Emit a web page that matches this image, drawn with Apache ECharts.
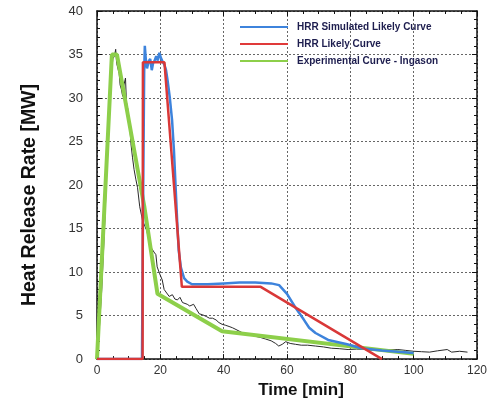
<!DOCTYPE html>
<html>
<head>
<meta charset="utf-8">
<script src="https://cdn.jsdelivr.net/npm/echarts@6/dist/echarts.min.js"></script>
<style>
html,body{margin:0;padding:0;background:#fff;}
#chart{width:490px;height:404px;}
</style>
</head>
<body>
<div id="chart"></div>
<script>
// ---- data (time [min], HRR [MW]) ----
const seriesNames = ["HRR Simulated Likely Curve", "HRR Likely Curve", "Experimental Curve - Ingason"];
const xTicks = [0, 20, 40, 60, 80, 100, 120];
const yTicks = [0, 5, 10, 15, 20, 25, 30, 35, 40];

const simulatedCurve = [
  [0,0],[14.2,0],[14.6,20],[14.9,33],[15.1,36],[15.4,34.5],[15.8,33.4],[16.3,34.2],[16.8,34.5],
  [17.3,33.2],[17.7,34],[18.2,34.3],[18.7,34.8],[19.2,34.3],[19.7,35.2],[20.2,34.6],[20.7,34.2],
  [21.3,33.8],[21.8,33.2],[22.3,32],[23.0,30],[23.7,27.5],[24.3,24],[24.8,20],[25.3,16],
  [25.8,12.5],[26.5,10.5],[27.5,9.3],[28.5,8.9],[30,8.6],[35,8.6],[40,8.7],[45,8.8],[50,8.8],
  [55,8.7],[57.5,8.5],[60,7.5],[62.7,5.9],[65.2,4.6],[67,3.6],[69,3.0],[73,2.2],[79,1.7],
  [83.4,1.25],[90,1.0],[95,0.85],[100,0.7]
];
const likelyCurve = [
  [0,0],[14.4,0],[14.5,34.1],[21.3,34.1],[26.8,8.3],[51.7,8.3],[90,0]
];
const experimentalFit = [
  [0,0],[4.7,35],[6.3,35],[15,17.4],[19.1,7.5],[39.5,3.2],[100,0.6]
];
const measuredCurve = [
  [0,0],[0.5,2],[1,5],[1.5,8],[2,12],[2.5,16],[3,21],[3.5,25],[4,29],[4.5,32.5],[5,34.5],[5.5,34.8],
  [5.9,35.6],[6.2,34],[6.6,33.8],[7,32.8],[7.3,31.5],[7.7,31],[8.1,30.2],[8.5,31.5],[9,32.3],[9.3,29.5],
  [9.7,28.8],[10,26.8],[10.3,27.2],[10.7,24.8],[11.2,23.2],[11.7,21.8],[12.3,20.6],[12.8,19.7],[13.5,17.5],
  [14.4,15.9],[15.2,15.2],[15.7,14.8],[16.4,13.6],[17.1,12.8],[18,12.3],[18.6,12],[19,10.6],[19.8,9.8],
  [20.6,9.1],[21.2,8],[22,7.6],[22.8,7.2],[23.8,7.4],[24.6,6.9],[25.4,6.8],[26.2,7.1],[27,6.5],[27.6,6.4],
  [28.5,6.3],[29.3,6.1],[29.8,6.0],[30.5,6.3],[31.3,5.8],[32.3,5.2],[33.3,5.1],[34.5,4.9],[35.5,4.7],
  [36.5,4.7],[37.6,4.5],[38.5,4.2],[39.5,4.0],[40.5,3.9],[41.7,3.75],[42.8,3.6],[43.9,3.4],[45.5,3.1],
  [47,2.8],[48.5,2.8],[50.2,2.6],[51.5,2.5],[53.3,2.3],[55,2.1],[56.4,1.8],[57.4,1.5],[58.5,1.7],[59.6,2.0],
  [61,1.8],[62.7,1.7],[64.5,1.6],[66.5,1.6],[69,1.5],[71.5,1.4],[74,1.25],[76.5,1.2],[79.3,1.1],[82,1.15],
  [84.6,1.1],[87,1.0],[89.7,1.1],[92.5,1.05],[95,1.1],[97.5,1.0],[100,0.9],[102.5,0.85],[105,0.8],
  [107.5,0.95],[110.6,1.1],[112,0.8],[114.5,0.9],[117,0.8]
];

const FONT = "Liberation Sans, Arial, sans-serif";
const chart = echarts.init(document.getElementById('chart'), null, {renderer: 'canvas'});

const gridLine = {show: true, lineStyle: {color: '#666', type: [2, 2], width: 1}};
const frameLine = {show: true, onZero: false, lineStyle: {color: '#111', width: 1.5}};

chart.setOption({
  animation: false,
  backgroundColor: '#fff',
  grid: {left: 97, right: 10, top: 11, bottom: 41, containLabel: false},
  legend: {
    data: seriesNames,
    orient: 'vertical',
    left: 235,
    top: 17,
    itemWidth: 48,
    itemHeight: 2,
    itemGap: 7,
    icon: 'rect',
    textStyle: {fontFamily: FONT, fontSize: 10, fontWeight: 'bold', color: '#1d1d4e', padding: [0, 0, 0, 4]}
  },
  xAxis: [{
    type: 'value', min: xTicks[0], max: xTicks[xTicks.length - 1], interval: 20,
    name: 'Time [min]', nameLocation: 'middle', nameGap: 20,
    nameTextStyle: {fontFamily: FONT, fontSize: 17, fontWeight: 'bold', color: '#111', padding: [0, 0, 0, 28]},
    axisLine: frameLine,
    axisTick: {show: true, inside: true, length: 5, lineStyle: {color: '#111'}},
    minorTick: {show: true, splitNumber: 4, length: 3, lineStyle: {color: '#111'}},
    axisLabel: {fontFamily: FONT, fontSize: 12, color: '#333', margin: 6},
    splitLine: gridLine
  }, {
    type: 'value', position: 'top', min: 0, max: 120, interval: 20,
    axisLine: frameLine,
    axisTick: {show: true, inside: true, length: 5, lineStyle: {color: '#111'}},
    minorTick: {show: true, splitNumber: 4, length: 3, lineStyle: {color: '#111'}},
    axisLabel: {show: false}, splitLine: {show: false}
  }],
  yAxis: [{
    type: 'value', min: yTicks[0], max: yTicks[yTicks.length - 1], interval: 5,
    name: 'Heat Release Rate [MW]', nameLocation: 'middle', nameGap: 57,
    nameTextStyle: {fontFamily: FONT, fontSize: 19.5, fontWeight: 'bold', color: '#111', padding: [0, 20, 0, 0]},
    axisLine: frameLine,
    axisTick: {show: true, inside: true, length: 5, lineStyle: {color: '#111'}},
    minorTick: {show: true, splitNumber: 5, length: 3, lineStyle: {color: '#111'}},
    axisLabel: {fontFamily: FONT, fontSize: 13, color: '#333', margin: 14},
    splitLine: gridLine
  }, {
    type: 'value', position: 'right', min: 0, max: 40, interval: 5,
    axisLine: frameLine,
    axisTick: {show: true, inside: true, length: 5, lineStyle: {color: '#111'}},
    minorTick: {show: true, splitNumber: 5, length: 3, lineStyle: {color: '#111'}},
    axisLabel: {show: false}, splitLine: {show: false}
  }],
  series: [
    {
      name: 'measured', type: 'line', data: measuredCurve, showSymbol: false, symbol: 'none',
      lineStyle: {color: '#2a2a2a', width: 1}, z: 2, silent: true
    },
    {
      name: seriesNames[2], type: 'line', data: experimentalFit, showSymbol: false, symbol: 'none',
      itemStyle: {color: '#8dcf4a'},
      lineStyle: {color: '#8dcf4a', width: 4}, z: 3
    },
    {
      name: seriesNames[1], type: 'line', data: likelyCurve, showSymbol: false, symbol: 'none',
      itemStyle: {color: '#e03a3a'},
      lineStyle: {color: '#d93838', width: 2.5}, z: 4
    },
    {
      name: seriesNames[0], type: 'line', data: simulatedCurve, showSymbol: false, symbol: 'none',
      itemStyle: {color: '#3d83dc'},
      lineStyle: {color: '#3d83dc', width: 2.5}, z: 3
    }
  ]
});
</script>
</body>
</html>
